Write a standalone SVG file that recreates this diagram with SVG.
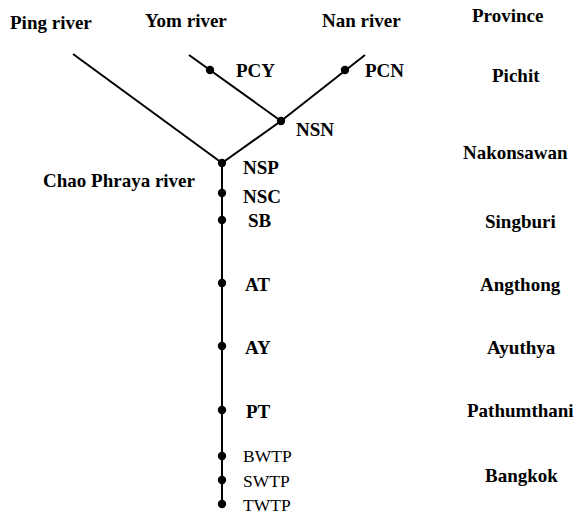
<svg xmlns="http://www.w3.org/2000/svg" width="579" height="515" viewBox="0 0 579 515">
<rect width="579" height="515" fill="#fff"/>
<g id="rivers">
<text x="10" y="29" font-family="Liberation Serif" font-size="19" font-weight="bold">Ping river</text>
<text x="145" y="27" font-family="Liberation Serif" font-size="19" font-weight="bold">Yom river</text>
<text x="322" y="27" font-family="Liberation Serif" font-size="19" font-weight="bold">Nan river</text>
<text x="43" y="187" font-family="Liberation Serif" font-size="19" font-weight="bold">Chao Phraya river</text>
</g>
<g id="provinces">
<text x="472" y="22" font-family="Liberation Serif" font-size="19" font-weight="bold">Province</text>
<text x="492" y="82" font-family="Liberation Serif" font-size="19" font-weight="bold">Pichit</text>
<text x="463" y="159" font-family="Liberation Serif" font-size="19" font-weight="bold">Nakonsawan</text>
<text x="485" y="228" font-family="Liberation Serif" font-size="19" font-weight="bold">Singburi</text>
<text x="480" y="291" font-family="Liberation Serif" font-size="19" font-weight="bold">Angthong</text>
<text x="487" y="354" font-family="Liberation Serif" font-size="19" font-weight="bold">Ayuthya</text>
<text x="467" y="417" font-family="Liberation Serif" font-size="19" font-weight="bold">Pathumthani</text>
<text x="485" y="482" font-family="Liberation Serif" font-size="19" font-weight="bold">Bangkok</text>
</g>
<g id="connectors" stroke="#000" stroke-width="2" fill="none">
<polyline points="73,54 222,163"/>
<polyline points="189,55 281,121"/>
<polyline points="365,55 281,121 222,163 222,504"/>
</g>
<g id="PCY"><circle cx="210" cy="70" r="4.2"/><text x="236" y="77" font-family="Liberation Serif" font-size="19" font-weight="bold">PCY</text></g>
<g id="PCN"><circle cx="345" cy="70" r="4.2"/><text x="365" y="77" font-family="Liberation Serif" font-size="19" font-weight="bold">PCN</text></g>
<g id="NSN"><circle cx="281" cy="121" r="4.2"/><text x="296" y="136" font-family="Liberation Serif" font-size="19" font-weight="bold">NSN</text></g>
<g id="NSP"><circle cx="222" cy="163" r="4.2"/><text x="243" y="174" font-family="Liberation Serif" font-size="19" font-weight="bold">NSP</text></g>
<g id="NSC"><circle cx="222" cy="193" r="4.2"/><text x="243" y="203" font-family="Liberation Serif" font-size="19" font-weight="bold">NSC</text></g>
<g id="SB"><circle cx="222" cy="220" r="4.2"/><text x="248" y="227" font-family="Liberation Serif" font-size="19" font-weight="bold">SB</text></g>
<g id="AT"><circle cx="222" cy="283" r="4.2"/><text x="245" y="291" font-family="Liberation Serif" font-size="19" font-weight="bold">AT</text></g>
<g id="AY"><circle cx="222" cy="346" r="4.2"/><text x="245" y="354" font-family="Liberation Serif" font-size="19" font-weight="bold">AY</text></g>
<g id="PT"><circle cx="222" cy="410" r="4.2"/><text x="246" y="418" font-family="Liberation Serif" font-size="19" font-weight="bold">PT</text></g>
<g id="BWTP"><circle cx="222" cy="456" r="4.2"/><text x="243" y="462" font-family="Liberation Serif" font-size="17.5">BWTP</text></g>
<g id="SWTP"><circle cx="222" cy="480" r="4.2"/><text x="243" y="487" font-family="Liberation Serif" font-size="17.5">SWTP</text></g>
<g id="TWTP"><circle cx="222" cy="504" r="4.2"/><text x="243" y="511" font-family="Liberation Serif" font-size="17.5">TWTP</text></g>
</svg>
